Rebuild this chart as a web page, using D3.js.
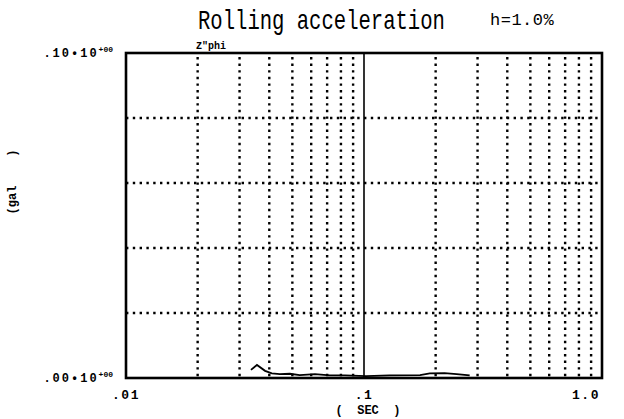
<!DOCTYPE html>
<html><head><meta charset="utf-8">
<script src="https://cdn.jsdelivr.net/npm/d3@7"></script>
<style>body{margin:0;background:#fff}svg{display:block}</style>
</head><body>
<svg id="c" width="624" height="419"></svg>
<script>
// Data
const periods = [0.0335,0.0355,0.0384,0.041,0.0443,0.0488,0.0537,0.0622,0.0719,0.0832,0.102,0.128,0.172,0.189,0.218,0.245,0.278];
const accel   = [0.0025,0.0040,0.0022,0.0014,0.0012,0.0013,0.0009,0.0012,0.0008,0.0008,0.0006,0.0008,0.0009,0.0014,0.0015,0.0012,0.0008];
const xTicks = [0.01, 0.1, 1.0];
const xTickLabels = [".01", ".1", "1.0"];
const yTicks = [0, 0.1];
const yTickLabels = [".00\u202210", ".10\u202210"];
const yTickExp = ["+00", "+00"];
const gridYValues = [0.02, 0.04, 0.06, 0.08];
const gridXValues = [0.02,0.03,0.04,0.05,0.06,0.07,0.08,0.09,0.2,0.3,0.4,0.5,0.6,0.7,0.8,0.9];

const svg = d3.select("#c");
const L = 126, R = 602, T = 53, B = 378;
const x = d3.scaleLog().domain([0.01, 1.0]).range([L, R]);
const y = d3.scaleLinear().domain([0, 0.1]).range([B, T]);
const mono = "'Liberation Mono', 'DejaVu Sans Mono', monospace";

// grid
const g = svg.append("g");
g.selectAll("line.gx").data(gridXValues).enter().append("line")
  .attr("x1", d => x(d)).attr("x2", d => x(d)).attr("y1", T + 4).attr("y2", B)
  .attr("stroke", "#000").attr("stroke-width", 2.4).attr("stroke-dasharray", "2.4,4.2");
g.selectAll("line.gy").data(gridYValues).enter().append("line")
  .attr("x1", L).attr("x2", R).attr("y1", d => y(d)).attr("y2", d => y(d))
  .attr("stroke", "#000").attr("stroke-width", 2.4).attr("stroke-dasharray", "2.4,4.4");
// solid 0.1 line
g.append("line").attr("x1", x(0.1)).attr("x2", x(0.1)).attr("y1", T).attr("y2", B)
  .attr("stroke", "#000").attr("stroke-width", 1.6);

// data line
svg.append("path").datum(periods.map((p, i) => [p, accel[i]]))
  .attr("fill", "none").attr("stroke", "#000").attr("stroke-width", 1.8)
  .attr("d", d3.line().x(d => x(d[0])).y(d => y(d[1])));

// frame
svg.append("rect").attr("x", L).attr("y", T).attr("width", R - L).attr("height", B - T)
  .attr("fill", "none").attr("stroke", "#000").attr("stroke-width", 2.6);

// x tick labels
svg.selectAll("text.xt").data(xTicks).enter().append("text")
  .attr("x", (d, i) => x(d) + (i === 2 ? -16 : 0)).attr("y", 399)
  .attr("text-anchor", "middle").attr("font-family", mono).attr("font-weight", "bold")
  .attr("font-size", 13).attr("letter-spacing", 1.5).text((d, i) => xTickLabels[i]);
svg.append("text").attr("x", 368).attr("y", 414).attr("text-anchor", "middle")
  .attr("font-family", mono).attr("font-weight", "bold").attr("font-size", 12)
  .attr("xml:space", "preserve").text("(  SEC  )");

// y tick labels
yTicks.forEach((d, i) => {
  const t = svg.append("text").attr("x", 113).attr("y", y(d) + 4).attr("text-anchor", "end")
    .attr("font-family", mono).attr("font-weight", "bold").attr("font-size", 12).attr("letter-spacing", 2);
  t.append("tspan").text(yTickLabels[i]);
  t.append("tspan").attr("dy", -5).attr("font-size", 8).attr("letter-spacing", 0).text(yTickExp[i]);
});

// y axis title
svg.append("text").attr("transform", "translate(16,182) rotate(-90)").attr("text-anchor", "middle")
  .attr("font-family", mono).attr("font-weight", "bold").attr("font-size", 12)
  .attr("xml:space", "preserve").text("(gal    )");

// series label
svg.append("text").attr("x", 196).attr("y", 49).attr("font-family", mono)
  .attr("font-weight", "bold").attr("font-size", 10).text("Z\"phi");

// title
svg.append("text").attr("transform", "translate(198,29) scale(0.735,1)").attr("font-family", mono)
  .attr("font-size", 28).text("Rolling acceleration");
svg.append("text").attr("x", 490).attr("y", 25).attr("font-family", mono)
  .attr("font-size", 17).attr("letter-spacing", 0.5).text("h=1.0%");
</script>
</body></html>
